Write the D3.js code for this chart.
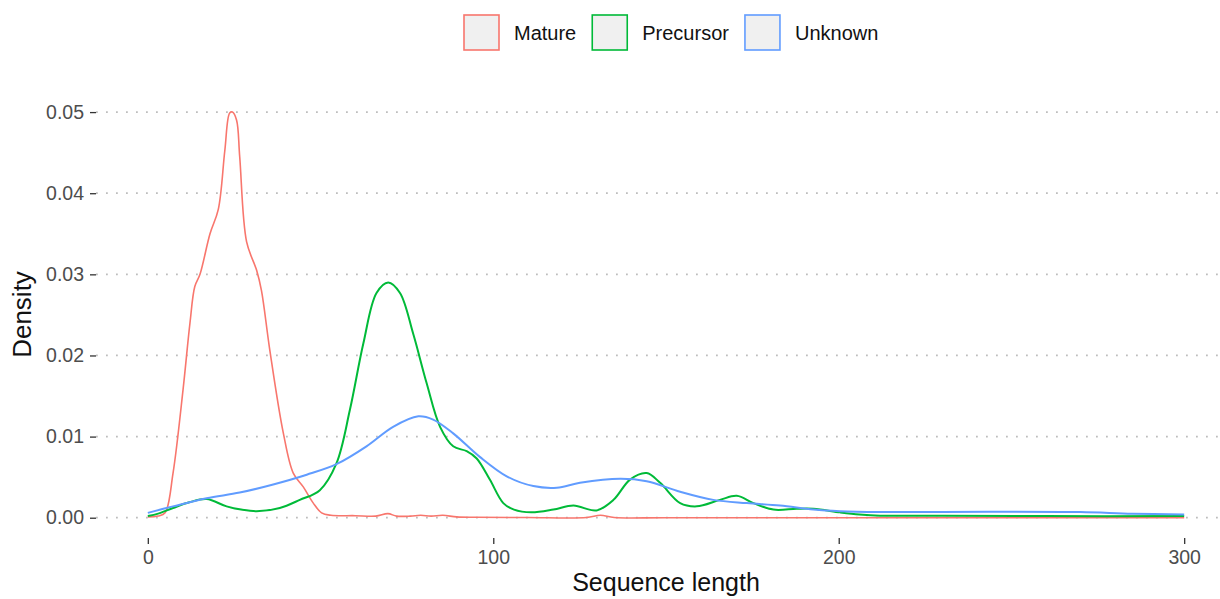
<!DOCTYPE html>
<html>
<head>
<meta charset="utf-8">
<script src="https://cdn.jsdelivr.net/npm/d3@7"></script>
<style>
  html, body { margin: 0; padding: 0; background: #fff; }
  svg { display: block; font-family: "Liberation Sans", Arial, Helvetica, sans-serif; }
</style>
</head>
<body>
<svg id="chart" width="1220" height="599"></svg>
<script>
// Kernel density of sequence length, by sequence class
const groups = ["Mature", "Precursor", "Unknown"];
const groupColors = ["#F8766D", "#00BA38", "#619CFF"];

const matureLength  = [0, 3, 5, 7.3, 10.2, 12.2, 13.6, 15.1, 18, 20.4, 22.3, 23.7, 24.5, 25.7, 26.6, 28.6, 31.5, 32.9, 35.3, 39.2, 42.1, 45, 47.9, 50.3, 53, 60, 66, 69.5, 72, 76, 79, 82, 85.4, 89.4, 95, 110, 127, 131, 135, 150, 200, 250, 300];
const matureDensity = [0.0001, 0.0002, 0.0006, 0.0055, 0.0158, 0.024, 0.0285, 0.030, 0.035, 0.038, 0.0453, 0.0499, 0.0500, 0.049, 0.0445, 0.034, 0.0305, 0.028, 0.0207, 0.0105, 0.0055, 0.0038, 0.0018, 0.0006, 0.0003, 0.00025, 0.0002, 0.0005, 0.0002, 0.0002, 0.0003, 0.0002, 0.0003, 0.0001, 0.00005, 0.00002, 0.00002, 0.0003, 0.00002, 0, 0, 0, 0];

const precursorLength  = [0, 3, 7.3, 12, 17, 22.8, 27, 31.5, 38.2, 44, 49.8, 54.6, 58.5, 62.4, 66.2, 69.6, 73, 76.8, 80.7, 84.6, 88.4, 92.3, 95.2, 99, 102.9, 106, 111, 117.4, 123.2, 129.9, 134.8, 139.6, 144.4, 148.3, 154.1, 158.9, 165.6, 170.5, 175.3, 181.1, 187.8, 192.7, 200.4, 206, 212, 230, 260, 300];
const precursorDensity = [0.0002, 0.0005, 0.0012, 0.0019, 0.0023, 0.0014, 0.001, 0.0008, 0.0012, 0.0022, 0.0034, 0.0067, 0.0133, 0.0215, 0.0277, 0.0290, 0.0277, 0.0227, 0.0166, 0.0112, 0.0088, 0.0082, 0.0073, 0.0047, 0.0018, 0.001, 0.00066, 0.001, 0.0015, 0.0009, 0.0022, 0.0047, 0.0055, 0.0043, 0.0018, 0.0014, 0.0022, 0.0027, 0.0018, 0.001, 0.0011, 0.0011, 0.00066, 0.0004, 0.00025, 0.00025, 0.0002, 0.0002];

const unknownLength  = [0, 7.3, 17, 26.6, 36.3, 46, 54.6, 63.3, 71, 78.3, 82.6, 88.4, 96.1, 103.9, 111.6, 118.4, 125.1, 136.7, 144.4, 154.1, 163.7, 173.4, 183, 192.7, 200.4, 212, 230, 250, 270, 285, 300];
const unknownDensity = [0.0006, 0.0014, 0.0024, 0.0031, 0.0041, 0.0053, 0.0066, 0.0088, 0.0112, 0.0125, 0.0121, 0.0104, 0.0075, 0.0051, 0.0039, 0.0037, 0.0043, 0.0048, 0.0045, 0.0032, 0.0022, 0.0018, 0.0015, 0.001, 0.0008, 0.0007, 0.0007, 0.00075, 0.0007, 0.0005, 0.0004];

const xTicks = [0, 100, 200, 300];
const yTicks = [0, 0.01, 0.02, 0.03, 0.04, 0.05];
const xTitle = "Sequence length";
const yTitle = "Density";

const series = [
  { name: groups[0], color: groupColors[0], xs: matureLength, ys: matureDensity, width: 1.6 },
  { name: groups[1], color: groupColors[1], xs: precursorLength, ys: precursorDensity, width: 2 },
  { name: groups[2], color: groupColors[2], xs: unknownLength, ys: unknownDensity, width: 2 }
];

const svg = d3.select("#chart");
const W = 1220, H = 599;

// Panel area (domain padded like ggplot's 5% expansion)
const panel = { left: 96, right: 1236, top: 91, bottom: 538 };
const x = d3.scaleLinear().domain([-15, 315]).range([panel.left, panel.right]);
const y = d3.scaleLinear().domain([-0.0025, 0.0526]).range([panel.bottom, panel.top]);

// Dotted horizontal grid
svg.append("g")
  .selectAll("line")
  .data(yTicks)
  .join("line")
  .attr("x1", panel.left).attr("x2", W)
  .attr("y1", d => y(d)).attr("y2", d => y(d))
  .attr("stroke", "#bdbdbd")
  .attr("stroke-width", 1.8)
  .attr("stroke-dasharray", "1.8,8.2");

// Y axis
const yAxis = svg.append("g")
  .attr("transform", `translate(${panel.left},0)`)
  .call(d3.axisLeft(y).tickValues(yTicks).tickFormat(d3.format(".2f")).tickSize(6).tickPadding(6));
yAxis.select(".domain").remove();
yAxis.selectAll(".tick line").attr("stroke", "#333").attr("stroke-width", 1.3);
yAxis.selectAll(".tick text").attr("fill", "#4d4d4d").style("font-size", "19.5px")
  .style("font-family", "'Liberation Sans', Arial, sans-serif");

// X axis
const xAxis = svg.append("g")
  .attr("transform", `translate(0,${panel.bottom})`)
  .call(d3.axisBottom(x).tickValues(xTicks).tickFormat(d3.format("d")).tickSize(6).tickPadding(6));
xAxis.select(".domain").remove();
xAxis.selectAll(".tick line").attr("stroke", "#333").attr("stroke-width", 1.3);
xAxis.selectAll(".tick text").attr("fill", "#4d4d4d").style("font-size", "19.5px")
  .style("font-family", "'Liberation Sans', Arial, sans-serif");

// Axis titles
svg.append("text")
  .attr("x", (x(0) + x(300)) / 2).attr("y", 591)
  .attr("text-anchor", "middle")
  .style("font-size", "25px").attr("fill", "#111")
  .text(xTitle);

svg.append("text")
  .attr("transform", `translate(31,${(panel.top + panel.bottom) / 2}) rotate(-90)`)
  .attr("text-anchor", "middle")
  .style("font-size", "26px").attr("fill", "#111")
  .text(yTitle);

// Density curves
const line = d3.line()
  .x(d => x(d[0]))
  .y(d => y(d[1]))
  .curve(d3.curveCatmullRom.alpha(0.5));

svg.append("g")
  .selectAll("path")
  .data(series)
  .join("path")
  .attr("fill", "none")
  .attr("stroke", d => d.color)
  .attr("stroke-width", d => d.width)
  .attr("stroke-linejoin", "round")
  .attr("d", d => line(d.xs.map((v, i) => [v, d.ys[i]])));

// Legend across the top
const legend = svg.append("g");
const keySize = 35;
let cx = 0;
series.forEach((s, i) => {
  const g = legend.append("g");
  g.append("rect")
    .attr("x", 0).attr("y", 0)
    .attr("width", keySize).attr("height", keySize)
    .attr("fill", "#f0f0f0")
    .attr("stroke", s.color)
    .attr("stroke-width", 1.6);
  const t = g.append("text")
    .attr("x", keySize + 15).attr("y", keySize / 2)
    .attr("dy", "0.35em")
    .style("font-size", "20px").attr("fill", "#111")
    .text(s.name);
  const tw = t.node().getComputedTextLength();
  g.attr("transform", `translate(${cx},0)`);
  cx += keySize + 15 + tw + 16;
});
legend.attr("transform", "translate(464,15)");
</script>
</body>
</html>
